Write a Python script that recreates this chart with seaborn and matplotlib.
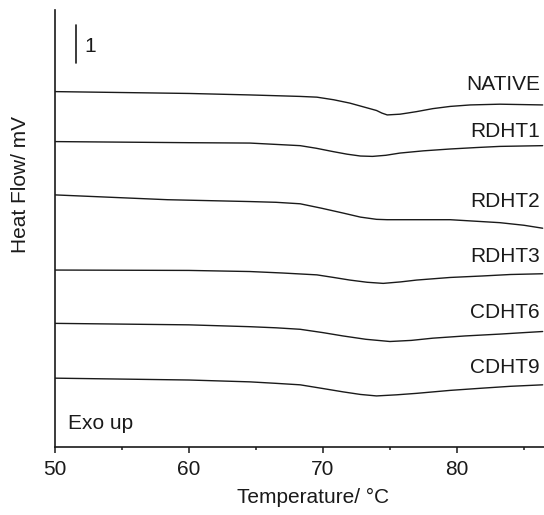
import numpy as np
import pandas as pd
import matplotlib
matplotlib.use("Agg")
import matplotlib.pyplot as plt
import seaborn as sns
from matplotlib.ticker import MultipleLocator, NullLocator

sns.set_theme(style="white")
plt.rcParams['font.family'] = ['Liberation Sans', 'DejaVu Sans']

# Temperatures (°C) and heat flow (mV, stacked)
native_t = [50.0, 60.0, 64.55, 68.3, 69.55, 70.8, 72.0, 73.0, 74.0, 74.4, 74.8, 75.75, 76.3, 77.0, 78.2, 79.5, 81.0, 83.2, 86.4]
native_v = [9.60, 9.55, 9.51, 9.47, 9.45, 9.38, 9.29, 9.19, 9.09, 9.02, 8.97, 8.99, 9.02, 9.06, 9.14, 9.20, 9.24, 9.26, 9.24]

rdht1_t = [50.0, 60.0, 64.55, 68.3, 69.5, 70.75, 71.8, 72.8, 73.7, 74.7, 75.75, 77.5, 79.5, 81.5, 83.2, 86.4]
rdht1_v = [8.25, 8.22, 8.21, 8.14, 8.07, 7.98, 7.91, 7.86, 7.85, 7.88, 7.94, 8.00, 8.05, 8.09, 8.12, 8.14]

rdht2_t = [50.0, 58.4, 64.55, 66.5, 68.3, 69.9, 71.5, 72.8, 74.0, 74.8, 77.0, 79.5, 83.2, 85.0, 86.4]
rdht2_v = [6.81, 6.68, 6.63, 6.61, 6.57, 6.45, 6.32, 6.21, 6.15, 6.14, 6.14, 6.14, 6.06, 5.99, 5.91]

rdht3_t = [50.0, 60.0, 64.55, 67.0, 69.55, 70.8, 72.0, 73.3, 74.5, 75.8, 77.0, 79.5, 81.9, 84.0, 86.4]
rdht3_v = [4.78, 4.77, 4.74, 4.70, 4.65, 4.58, 4.51, 4.45, 4.42, 4.46, 4.51, 4.58, 4.62, 4.66, 4.68]

cdht6_t = [50.0, 60.0, 64.55, 66.5, 68.3, 70.0, 71.5, 73.2, 75.0, 76.6, 78.2, 80.6, 83.2, 85.0, 86.4]
cdht6_v = [3.34, 3.30, 3.25, 3.22, 3.18, 3.09, 3.00, 2.91, 2.85, 2.88, 2.94, 3.00, 3.05, 3.09, 3.12]

cdht9_t = [50.0, 60.0, 64.55, 66.5, 68.3, 70.0, 71.5, 72.8, 74.0, 75.5, 77.0, 79.5, 81.9, 84.0, 86.4]
cdht9_v = [1.86, 1.81, 1.76, 1.72, 1.68, 1.58, 1.49, 1.42, 1.38, 1.41, 1.45, 1.53, 1.59, 1.64, 1.68]

series_names = ["NATIVE", "RDHT1", "RDHT2", "RDHT3", "CDHT6", "CDHT9"]
series_t = [native_t, rdht1_t, rdht2_t, rdht3_t, cdht6_t, cdht9_t]
series_v = [native_v, rdht1_v, rdht2_v, rdht3_v, cdht6_v, cdht9_v]
label_y = [9.65, 8.38, 6.49, 5.00, 3.49, 2.00]

x_ticks = [50, 60, 70, 80]

rows = []
for name, ts, vs in zip(series_names, series_t, series_v):
    for t, v in zip(ts, vs):
        rows.append({"Sample": name, "T": t, "HF": v})
df = pd.DataFrame(rows)

FS = 15
INK = "#1a1a1a"

fig = plt.figure(figsize=(5.44, 5.15), dpi=100)
ax = fig.add_axes([0.101, 0.132, 0.899, 0.849])

sns.lineplot(data=df, x="T", y="HF", hue="Sample", palette=[INK] * 6,
             legend=False, ax=ax, linewidth=1.0, sort=False, estimator=None)

ax.set_xlim(50, 86.5)
ax.set_ylim(0, 11.81)

for name, ly in zip(series_names, label_y):
    ax.text(86.2, ly, name, ha="right", va="baseline", fontsize=FS, color=INK)

# scale bar of 1 mV
ax.plot([51.57, 51.57], [10.38, 11.41], color=INK, lw=1.2)
ax.text(52.2, 10.68, "1", ha="left", va="baseline", fontsize=FS, color=INK)
ax.text(50.97, 0.49, "Exo up", ha="left", va="baseline", fontsize=FS, color=INK)

ax.set_xticks(x_ticks)
ax.xaxis.set_minor_locator(MultipleLocator(5))
ax.yaxis.set_major_locator(NullLocator())
ax.tick_params(axis="x", which="major", direction="out", length=4.5, width=1.1,
               labelsize=FS, pad=5, bottom=True, colors=INK)
ax.tick_params(axis="x", which="minor", direction="out", length=2.5, width=1.1, bottom=True,
               colors=INK)

for s in ["top", "right"]:
    ax.spines[s].set_visible(False)
for s in ["left", "bottom"]:
    ax.spines[s].set_color(INK)
    ax.spines[s].set_linewidth(1.2)

ax.set_xlabel("Temperature/ °C", fontsize=FS, color=INK)
ax.set_ylabel("Heat Flow/ mV", fontsize=FS, color=INK)
ax.xaxis.set_label_coords(0.528, -0.094)
ax.yaxis.set_label_coords(-0.052, 0.60)

fig.savefig("out.png", dpi=100)
